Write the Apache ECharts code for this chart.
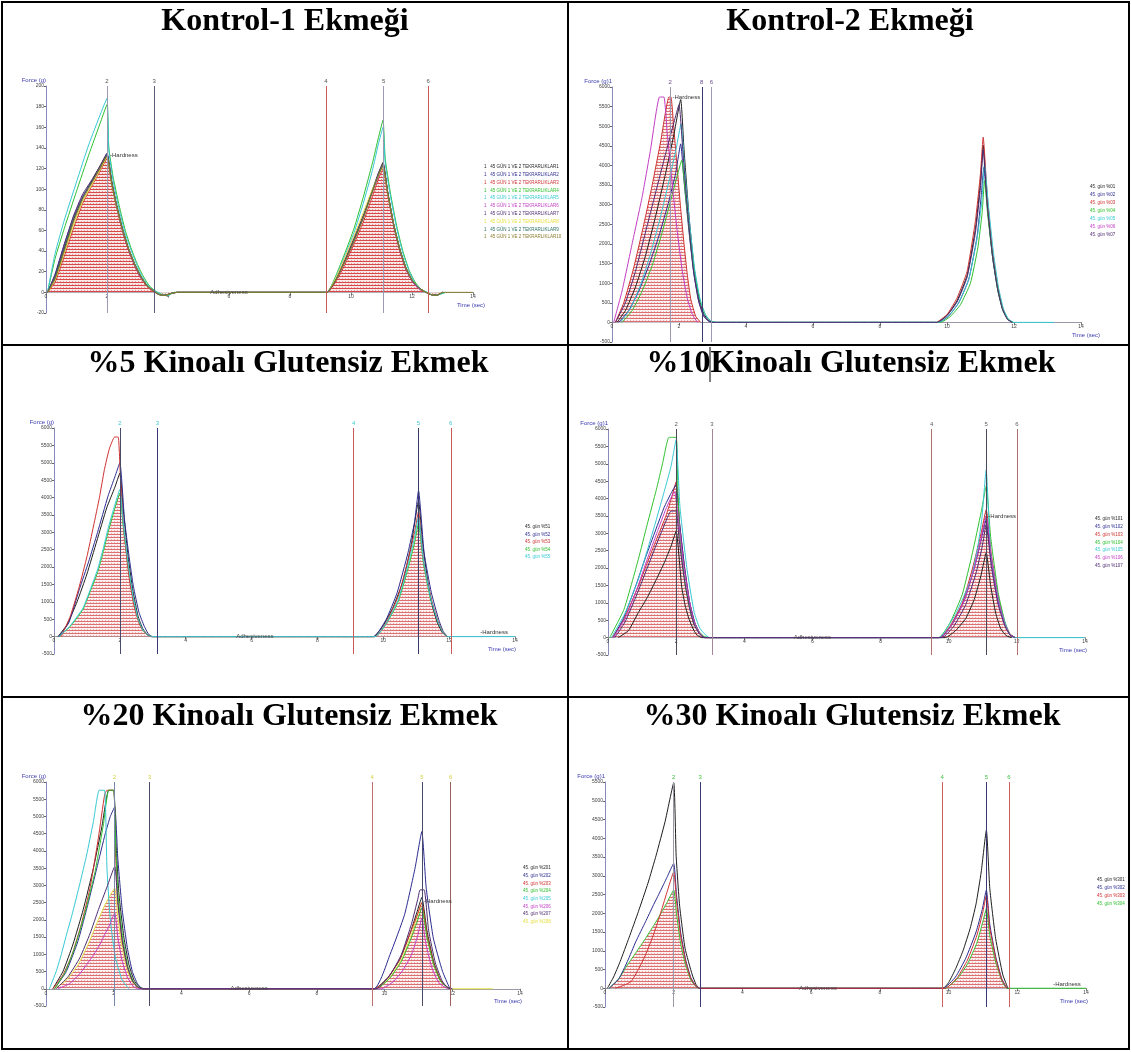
<!DOCTYPE html>
<html><head><meta charset="utf-8">
<script src="https://cdn.jsdelivr.net/npm/echarts@6.0.0/dist/echarts.min.js"></script>
<style>html,body{margin:0;padding:0;background:#fff}#c{width:1131px;height:1052px}</style>
</head><body><div id="c"></div>
<script>
// ---------------- text ----------------
const panelTitles = ['Kontrol-1 Ekmeği','Kontrol-2 Ekmeği','%5 Kinoalı Glutensiz Ekmek','%10Kinoalı Glutensiz Ekmek','%20 Kinoalı Glutensiz Ekmek','%30 Kinoalı Glutensiz Ekmek'];
const yMins = [-20,-500,-500,-500,-500,-500];
const yMaxs = [200,6000,6000,6000,6000,5500];
const ySteps = [20,500,500,500,500,500];
const xMin = 0, xMax = 14, xStep = 2;

// ---------------- Kontrol-1 ----------------
const k1Black = [[0.05,0],[0.3,14],[0.6,42],[0.9,70],[1.2,92],[1.5,108],[1.8,124],[2.0,134],[2.15,108],[2.3,86],[2.5,62],[2.7,43],[2.9,28],[3.1,16],[3.3,7],[3.5,2],[3.7,-2],[3.9,-3],[4.1,-1],[4.3,0],[9.2,0],[9.5,12],[9.8,30],[10.1,50],[10.4,72],[10.7,98],[10.9,115],[11.05,126],[11.2,98],[11.4,66],[11.6,42],[11.8,24],[12.0,12],[12.2,5],[12.4,1],[12.6,-2],[12.8,-3],[13.0,0]];
const k1Navy = [[0.05,0],[0.3,18],[0.6,47],[0.9,73],[1.2,93],[1.5,107],[1.8,121],[2.0,132],[2.15,107],[2.3,85],[2.5,61],[2.7,42],[2.9,27],[3.1,15],[3.3,7],[3.5,2],[3.7,-2],[3.9,-3],[4.1,-1],[4.3,0],[9.2,0],[9.5,13],[9.8,31],[10.1,52],[10.4,74],[10.7,99],[10.9,114],[11.05,124],[11.2,97],[11.4,65],[11.6,41],[11.8,23],[12.0,11],[12.2,4],[12.4,1],[12.6,-2],[12.8,-3],[13.0,0]];
const k1Red = [[0.05,0],[0.3,10],[0.6,35],[0.9,62],[1.2,86],[1.5,103],[1.8,119],[2.0,130],[2.15,105],[2.3,84],[2.5,60],[2.7,41],[2.9,26],[3.1,14],[3.3,6],[3.5,1],[3.7,-2],[3.9,-3],[4.1,-1],[4.3,0],[9.2,0],[9.5,10],[9.8,27],[10.1,47],[10.4,68],[10.7,93],[10.9,110],[11.05,120],[11.2,95],[11.4,64],[11.6,40],[11.8,22],[12.0,11],[12.2,4],[12.4,1],[12.6,-2],[12.8,-3],[13.0,0]];
const k1Green = [[0.05,0],[0.3,33],[0.6,62],[1.0,98],[1.4,133],[1.8,166],[2.0,182],[2.06,140],[2.2,112],[2.4,84],[2.6,60],[2.8,42],[3.0,27],[3.2,15],[3.4,6],[3.6,1],[3.8,-2],[4.0,-3],[4.2,0],[9.2,0],[9.5,16],[9.8,38],[10.1,62],[10.4,92],[10.7,125],[10.9,150],[11.05,167],[11.12,130],[11.3,95],[11.5,64],[11.7,40],[11.9,22],[12.1,10],[12.3,3],[12.5,0],[12.7,-3],[12.9,-2],[13.1,0]];
const k1Cyan = [[0.05,0],[0.3,38],[0.6,70],[1.0,107],[1.4,143],[1.8,174],[2.0,188],[2.06,138],[2.2,108],[2.4,80],[2.6,57],[2.8,40],[3.0,25],[3.2,13],[3.4,5],[3.6,1],[3.8,-2],[4.0,-3],[4.2,0],[9.2,0],[9.5,15],[9.8,36],[10.1,58],[10.4,86],[10.7,118],[10.9,144],[11.05,160],[11.12,126],[11.3,92],[11.5,62],[11.7,38],[11.9,21],[12.1,9],[12.3,3],[12.5,0],[12.7,-3],[12.9,-2],[13.1,0]];
const k1Magenta = [[0.05,0],[0.3,16],[0.6,45],[0.9,72],[1.2,93],[1.5,106],[1.8,121],[2.0,133],[2.15,107],[2.3,85],[2.5,61],[2.7,42],[2.9,27],[3.1,15],[3.3,7],[3.5,2],[3.7,-2],[3.9,-3],[4.1,-1],[4.3,0],[9.2,0],[9.5,13],[9.8,32],[10.1,53],[10.4,74],[10.7,98],[10.9,112],[11.05,122],[11.2,96],[11.4,65],[11.6,41],[11.8,23],[12.0,11],[12.2,4],[12.4,1],[12.6,-2],[12.8,-3],[13.0,0]];
const k1Purple = [[0.05,0],[0.3,17],[0.6,46],[0.9,74],[1.2,95],[1.5,109],[1.8,124],[2.0,135],[2.15,109],[2.3,87],[2.5,63],[2.7,43],[2.9,28],[3.1,16],[3.3,7],[3.5,2],[3.7,-2],[3.9,-3],[4.1,-1],[4.3,0],[9.2,0],[9.5,12],[9.8,31],[10.1,52],[10.4,74],[10.7,99],[10.9,116],[11.05,125],[11.2,98],[11.4,66],[11.6,42],[11.8,24],[12.0,12],[12.2,5],[12.4,1],[12.6,-2],[12.8,-3],[13.0,0]];
const k1Yellow = [[0.05,0],[0.3,12],[0.6,38],[0.9,65],[1.2,88],[1.5,104],[1.8,120],[2.0,131],[2.15,106],[2.3,85],[2.5,62],[2.7,43],[2.9,28],[3.1,16],[3.3,7],[3.5,2],[3.7,-2],[3.9,-3],[4.1,-1],[4.3,0],[9.2,0],[9.5,14],[9.8,34],[10.1,55],[10.4,77],[10.7,100],[10.9,113],[11.05,121],[11.2,96],[11.4,66],[11.6,42],[11.8,24],[12.0,12],[12.2,5],[12.4,1],[12.6,-2],[12.8,-3],[13.0,0]];
const k1Teal = [[0.05,0],[0.3,15],[0.6,43],[0.9,71],[1.2,92],[1.5,107],[1.8,122],[2.0,133],[2.15,107],[2.3,86],[2.5,62],[2.7,43],[2.9,28],[3.1,16],[3.3,7],[3.5,2],[3.7,-2],[3.9,-3],[4.1,-1],[4.3,0],[9.2,0],[9.5,12],[9.8,30],[10.1,51],[10.4,73],[10.7,98],[10.9,114],[11.05,123],[11.2,97],[11.4,66],[11.6,42],[11.8,24],[12.0,12],[12.2,5],[12.4,1],[12.6,-2],[12.8,-3],[13.0,0]];
const k1Olive = [[0.05,0],[0.3,13],[0.6,40],[0.9,68],[1.2,90],[1.5,106],[1.8,122],[2.0,132],[2.15,107],[2.3,86],[2.5,62],[2.7,43],[2.9,28],[3.1,16],[3.3,7],[3.5,2],[3.7,-2],[3.9,-3],[4.1,-1],[4.3,0],[9.2,0],[9.5,12],[9.8,30],[10.1,50],[10.4,72],[10.7,97],[10.9,114],[11.05,124],[11.2,97],[11.4,66],[11.6,42],[11.8,24],[12.0,12],[12.2,5],[12.4,1],[12.6,-2],[12.8,-3],[13.0,0],[14,0]];
const k1Names = ['1   45 GÜN 1 VE 2 TEKRARLIKLAR1','1   45 GÜN 1 VE 2 TEKRARLIKLAR2','1   45 GÜN 1 VE 2 TEKRARLIKLAR3','1   45 GÜN 1 VE 2 TEKRARLIKLAR4','1   45 GÜN 1 VE 2 TEKRARLIKLAR5','1   45 GÜN 1 VE 2 TEKRARLIKLAR6','1   45 GÜN 1 VE 2 TEKRARLIKLAR7','1   45 GÜN 1 VE 2 TEKRARLIKLAR8','1   45 GÜN 1 VE 2 TEKRARLIKLAR9','1   45 GÜN 1 VE 2 TEKRARLIKLAR10'];
const k1MarkTimes = [2.0,3.55,9.18,11.07,12.53];
const k1MarkLabels = ['2','3','4','5','6'];

// ---------------- Kontrol-2 ----------------
const k2Black = [[0.15,0],[0.4,300],[0.7,900],[1.0,1700],[1.3,2700],[1.6,3800],[1.85,4800],[2.05,5680],[2.15,4400],[2.3,2700],[2.45,1400],[2.6,600],[2.75,200],[2.9,40],[3.05,0],[9.7,0],[10.0,180],[10.3,550],[10.6,1200],[10.85,2400],[11.0,3600],[11.08,4520],[11.2,3100],[11.35,1800],[11.5,950],[11.65,380],[11.8,90],[11.95,0]];
const k2Navy = [[0.2,0],[0.5,300],[0.8,800],[1.1,1450],[1.4,2200],[1.7,3100],[1.9,3800],[2.05,4550],[2.15,3600],[2.3,2300],[2.45,1200],[2.6,500],[2.75,150],[2.9,30],[3.05,0],[9.75,0],[10.05,160],[10.35,500],[10.65,1100],[10.9,2200],[11.02,3200],[11.1,3950],[11.22,2800],[11.37,1600],[11.52,800],[11.67,300],[11.82,70],[11.97,0]];
const k2RedFirst = [[0.1,0],[0.35,500],[0.65,1400],[0.95,2500],[1.2,3500],[1.45,4600],[1.7,5745],[1.76,5745],[1.85,4900],[1.95,3900],[2.05,2900],[2.15,2000],[2.25,1200],[2.35,600],[2.5,150],[2.65,0]];
const k2RedSecond = [[9.7,0],[10.0,200],[10.3,620],[10.6,1300],[10.85,2600],[11.0,3800],[11.08,4720],[11.2,3250],[11.35,1900],[11.5,1000],[11.65,400],[11.8,100],[11.95,0]];
const k2Green = [[0.3,0],[0.6,300],[0.9,800],[1.2,1450],[1.5,2300],[1.75,3100],[1.95,3750],[2.08,4130],[2.2,3200],[2.35,2000],[2.5,1100],[2.65,500],[2.8,180],[2.95,40],[3.1,0],[9.8,0],[10.1,150],[10.4,450],[10.7,1000],[10.92,1900],[11.05,2800],[11.12,3620],[11.22,2700],[11.37,1600],[11.52,800],[11.67,300],[11.82,80],[11.97,0]];
const k2Cyan = [[0.25,0],[0.55,350],[0.85,950],[1.15,1750],[1.45,2700],[1.7,3600],[1.92,4450],[2.06,5060],[2.17,3900],[2.32,2500],[2.47,1350],[2.62,620],[2.77,220],[2.92,50],[3.08,0],[9.75,0],[10.05,170],[10.35,500],[10.65,1100],[10.9,2150],[11.04,3100],[11.12,4040],[11.24,2950],[11.39,1750],[11.54,880],[11.69,330],[11.84,80],[12.0,0],[13.2,0]];
const k2Magenta = [[0.05,0],[0.3,800],[0.6,2000],[0.9,3200],[1.15,4400],[1.42,5745],[1.55,5745],[1.65,4800],[1.8,3500],[1.95,2300],[2.1,1300],[2.25,600],[2.4,200],[2.55,0]];
const k2Purple = [[0.1,0],[0.4,500],[0.7,1300],[1.0,2300],[1.3,3300],[1.6,4300],[1.85,5100],[2.0,5550],[2.12,4300],[2.27,2700],[2.42,1400],[2.57,600],[2.72,180],[2.88,30],[3.0,0],[9.7,0],[10.0,170],[10.3,520],[10.6,1150],[10.85,2300],[11.0,3450],[11.08,4400],[11.2,3000],[11.35,1750],[11.5,900],[11.65,350],[11.8,80],[11.95,0]];
const k2Names = ['45. gün %01','45. gün %02','45. gün %03','45. gün %04','45. gün %05','45. gün %06','45. gün %07'];
const k2MarkTimes = [1.74,2.68,2.97];
const k2MarkLabels = ['2','8','6'];

// ---------------- %5 ----------------
const p5Black = [[0.12,0],[0.4,350],[0.7,1000],[1.0,1800],[1.3,2750],[1.6,3700],[1.85,4300],[2.0,4700],[2.1,3700],[2.25,2300],[2.4,1300],[2.55,600],[2.7,220],[2.85,50],[3.0,0],[9.7,0],[10.0,320],[10.3,850],[10.6,1600],[10.85,2650],[11.07,3900],[11.2,2650],[11.35,1600],[11.5,850],[11.65,380],[11.8,110],[11.95,0]];
const p5Navy = [[0.15,0],[0.45,400],[0.77,1360],[1.05,2150],[1.32,2990],[1.64,4040],[1.85,4600],[2.0,5000],[2.14,3370],[2.28,2300],[2.41,1450],[2.58,700],[2.74,300],[2.85,100],[2.96,0],[9.7,0],[10.09,500],[10.42,1260],[10.75,2410],[10.95,3300],[11.07,4200],[11.24,2410],[11.46,1260],[11.68,500],[11.82,150],[11.95,0]];
const p5Red = [[0.22,0],[0.5,600],[0.77,1450],[1.0,2300],[1.2,3180],[1.38,4000],[1.53,4800],[1.68,5400],[1.84,5740],[1.95,5740],[2.02,4500],[2.12,3100],[2.28,1700],[2.45,800],[2.62,300],[2.8,80],[2.95,0],[9.75,0],[10.1,420],[10.45,1150],[10.78,2300],[10.95,3000],[11.07,3600],[11.22,2200],[11.44,1150],[11.66,450],[11.82,120],[11.95,0]];
const p5Green = [[0.15,0],[0.5,300],[0.88,785],[1.1,1300],[1.32,1840],[1.5,2450],[1.64,2990],[1.82,3600],[2.0,4130],[2.1,3200],[2.25,2000],[2.4,1100],[2.55,500],[2.7,180],[2.85,40],[3.0,0],[9.75,0],[10.1,380],[10.45,1000],[10.75,1950],[10.95,2700],[11.07,3270],[11.22,2100],[11.44,1050],[11.66,400],[11.82,110],[11.95,0]];
const p5Cyan = [[0.15,0],[0.5,320],[0.88,820],[1.1,1350],[1.32,1920],[1.5,2550],[1.64,3100],[1.82,3700],[2.0,4230],[2.1,3300],[2.25,2100],[2.4,1150],[2.55,520],[2.7,190],[2.85,40],[3.0,0],[9.75,0],[10.1,400],[10.45,1050],[10.75,2050],[10.95,2850],[11.07,3450],[11.22,2200],[11.44,1100],[11.66,420],[11.82,110],[11.95,0],[14,0]];
const p5Names = ['45. gün %51','45. gün %52','45. gün %53','45. gün %54','45. gün %55'];
const p5MarkTimes = [2.0,3.14,9.1,11.07,12.05];
const p5MarkLabels = ['2','3','4','5','6'];

// ---------------- %10 ----------------
const p10Black = [[0.3,0],[0.6,200],[0.89,720],[1.15,1150],[1.42,1675],[1.65,2150],[1.85,2630],[2.0,3060],[2.16,1480],[2.27,900],[2.38,530],[2.5,250],[2.59,95],[2.75,0],[9.9,0],[10.2,200],[10.5,550],[10.75,1100],[10.95,1800],[11.1,2440],[11.23,1500],[11.38,700],[11.53,250],[11.7,50],[11.85,0]];
const p10Navy = [[0.15,0],[0.45,550],[0.8,1450],[1.1,2300],[1.4,3100],[1.65,3750],[1.85,4150],[2.0,4400],[2.1,3300],[2.25,2000],[2.4,1000],[2.55,420],[2.7,120],[2.85,0],[9.75,0],[10.1,380],[10.45,1050],[10.75,2000],[10.95,2800],[11.1,3400],[11.25,2200],[11.45,1050],[11.65,380],[11.8,90],[11.95,0]];
const p10Red = [[0.12,0],[0.45,500],[0.89,1480],[1.15,2150],[1.42,2820],[1.7,3500],[1.85,3970],[2.0,4480],[2.1,3300],[2.25,2000],[2.4,1000],[2.55,420],[2.7,120],[2.85,0],[9.72,0],[10.05,350],[10.4,1000],[10.7,2000],[10.95,3000],[11.1,3680],[11.25,2400],[11.45,1200],[11.65,420],[11.8,100],[11.95,0]];
const p10Green = [[0.05,0],[0.47,813],[0.89,2250],[1.15,3250],[1.42,4260],[1.6,5000],[1.79,5760],[2.0,5760],[2.05,4300],[2.11,2920],[2.27,1480],[2.48,526],[2.65,200],[2.8,48],[2.96,0],[9.7,0],[10.05,450],[10.4,1250],[10.7,2450],[10.95,3600],[11.1,4350],[11.23,2900],[11.45,1300],[11.65,450],[11.8,100],[11.95,0]];
const p10Cyan = [[0.1,0],[0.5,700],[0.89,1675],[1.15,2500],[1.42,3400],[1.65,4200],[1.85,4930],[2.0,5690],[2.11,3780],[2.32,1960],[2.53,720],[2.68,300],[2.8,140],[2.98,0],[9.7,0],[10.22,720],[10.65,1675],[10.85,2600],[10.97,3400],[11.1,4830],[11.23,2440],[11.5,910],[11.76,140],[11.92,0],[14,0]];
const p10Magenta = [[0.15,0],[0.5,550],[0.85,1400],[1.15,2250],[1.45,3050],[1.7,3700],[1.95,4200],[2.08,3300],[2.22,2100],[2.38,1100],[2.52,480],[2.68,150],[2.82,0],[9.75,0],[10.1,380],[10.45,1050],[10.75,2000],[10.95,2850],[11.1,3500],[11.25,2300],[11.45,1100],[11.65,380],[11.8,90],[11.95,0]];
const p10Purple = [[0.2,0],[0.5,450],[0.85,1250],[1.15,2000],[1.45,2750],[1.7,3350],[1.85,3640],[2.0,3640],[2.08,2900],[2.22,1800],[2.38,900],[2.52,380],[2.68,110],[2.82,0],[9.8,0],[10.15,330],[10.5,950],[10.8,1850],[10.98,2600],[11.1,3250],[11.25,2050],[11.45,950],[11.65,330],[11.8,70],[11.95,0]];
const p10Names = ['45. gün %101','45. gün %102','45. gün %103','45. gün %104','45. gün %105','45. gün %106','45. gün %107'];
const p10MarkTimes = [2.0,3.05,9.5,11.1,12.0];
const p10MarkLabels = ['2','3','4','5','6'];

// ---------------- %20 ----------------
const p20Black = [[0.2,0],[0.5,500],[0.8,1300],[1.1,2300],[1.4,3500],[1.65,4700],[1.85,5760],[2.0,5760],[2.07,4200],[2.15,2800],[2.3,1500],[2.45,700],[2.6,250],[2.75,60],[2.9,0],[9.7,0],[10.1,330],[10.45,850],[10.75,1600],[10.95,2200],[11.1,2650],[11.25,1700],[11.45,780],[11.65,250],[11.85,50],[11.95,0]];
const p20Navy = [[0.25,0],[0.6,500],[0.95,1400],[1.25,2500],[1.5,3500],[1.75,4500],[1.9,5000],[2.03,5280],[2.12,3800],[2.25,2300],[2.4,1200],[2.55,500],[2.7,150],[2.85,0],[9.68,0],[10.16,990],[10.59,2150],[10.9,3500],[11.1,4560],[11.23,2920],[11.44,1470],[11.71,510],[11.92,30],[12.0,0]];
const p20Red = [[0.2,0],[0.5,400],[0.77,990],[1.05,1900],[1.3,2920],[1.55,4400],[1.73,5620],[1.8,5760],[2.0,5760],[2.05,4000],[2.12,2600],[2.25,1400],[2.4,650],[2.55,250],[2.7,60],[2.85,0],[9.7,0],[10.1,320],[10.45,850],[10.75,1600],[10.95,2100],[11.1,2500],[11.25,1600],[11.45,750],[11.65,250],[11.85,50],[11.95,0]];
const p20Green = [[0.25,0],[0.55,450],[0.85,1200],[1.15,2200],[1.45,3400],[1.7,4800],[1.85,5760],[2.0,5760],[2.06,4100],[2.13,2700],[2.27,1450],[2.42,650],[2.57,230],[2.72,50],[2.87,0],[9.75,0],[10.15,300],[10.5,800],[10.8,1500],[10.98,2000],[11.1,2350],[11.25,1500],[11.45,700],[11.65,220],[11.85,40],[11.95,0]];
const p20Cyan = [[0.1,0],[0.3,500],[0.45,990],[0.6,1550],[0.77,2150],[1.0,3050],[1.2,3880],[1.4,4850],[1.57,5760],[1.73,5760],[1.8,3500],[1.9,2000],[2.05,900],[2.25,250],[2.45,0]];
const p20Magenta = [[0.35,0],[0.7,150],[0.98,415],[1.2,700],[1.41,990],[1.6,1300],[1.73,1570],[1.88,1850],[2.03,2200],[2.12,1500],[2.25,800],[2.4,350],[2.55,100],[2.7,0],[9.9,0],[10.25,200],[10.55,550],[10.8,1000],[10.98,1550],[11.1,2050],[11.22,1300],[11.4,600],[11.6,180],[11.8,30],[11.9,0]];
const p20Purple = [[0.3,0],[0.65,350],[1.0,900],[1.3,1600],[1.55,2300],[1.8,2950],[2.03,3550],[2.12,2500],[2.25,1400],[2.4,650],[2.55,230],[2.7,50],[2.85,0],[9.75,0],[10.15,380],[10.5,1000],[10.8,1900],[10.98,2600],[11.05,2870],[11.17,2870],[11.3,1700],[11.5,750],[11.7,230],[11.85,40],[11.95,0]];
const p20Yellow = [[0.25,0],[0.6,250],[0.95,700],[1.25,1300],[1.5,1900],[1.75,2450],[2.03,2920],[2.12,2100],[2.25,1200],[2.4,550],[2.55,200],[2.7,50],[2.85,0],[9.75,0],[10.15,320],[10.5,850],[10.8,1600],[10.98,2150],[11.1,2500],[11.25,1600],[11.45,750],[11.65,250],[11.85,50],[11.95,0],[13.2,0]];
const p20Names = ['45. gün %201','45. gün %202','45. gün %203','45. gün %204','45. gün %205','45. gün %206','45. gün %207','45. gün %208'];
const p20MarkTimes = [2.02,3.06,9.63,11.1,11.95];
const p20MarkLabels = ['2','3','4','5','6'];

// ---------------- %30 ----------------
const p30Black = [[0.07,0],[0.25,300],[0.44,710],[0.7,1350],[0.97,2040],[1.25,2800],[1.49,3550],[1.75,4450],[2.0,5480],[2.07,3550],[2.17,2220],[2.33,1065],[2.54,355],[2.65,100],[2.75,0],[9.84,0],[10.0,150],[10.21,530],[10.42,1000],[10.63,1600],[10.8,2250],[10.95,3100],[11.1,4215],[11.2,2660],[11.37,1330],[11.58,355],[11.73,0]];
const p30Navy = [[0.12,0],[0.4,250],[0.65,710],[0.9,1250],[1.18,1775],[1.4,2200],[1.6,2570],[1.8,2950],[2.0,3330],[2.08,2500],[2.2,1500],[2.35,750],[2.5,280],[2.65,50],[2.75,0],[9.84,0],[10.2,300],[10.5,800],[10.8,1500],[10.98,2100],[11.1,2620],[11.2,1700],[11.37,850],[11.55,250],[11.7,0]];
const p30Red = [[0.3,0],[0.55,80],[0.76,180],[0.97,500],[1.18,890],[1.4,1400],[1.6,1950],[1.8,2550],[2.0,3100],[2.08,2350],[2.2,1400],[2.35,700],[2.5,260],[2.65,50],[2.75,0],[9.9,0],[10.25,280],[10.55,750],[10.82,1400],[10.99,2000],[11.1,2480],[11.2,1600],[11.37,800],[11.55,230],[11.7,0]];
const p30Green = [[0.12,0],[0.4,250],[0.65,620],[0.9,950],[1.18,1330],[1.4,1650],[1.6,1950],[1.8,2280],[2.0,2620],[2.08,2000],[2.2,1200],[2.35,600],[2.5,220],[2.65,40],[2.75,0],[9.9,0],[10.25,250],[10.55,650],[10.82,1200],[10.99,1750],[11.1,2130],[11.2,1400],[11.37,700],[11.55,200],[11.7,0],[14,0]];
const p30Names = ['45. gün %301','45. gün %302','45. gün %303','45. gün %304'];
const p30MarkTimes = [2.0,2.77,9.81,11.1,11.76];
const p30MarkLabels = ['2','3','4','5','6'];

// annotations [t, force]
const hardnessAt = [[2.05,133],[1.76,5745],[12.9,120],[11.12,3500],[11.12,2550],[13.0,100]];
const adhesivenessAt = [[6.0,0],null,[6.1,0],[6.0,0],[6.0,0],[6.2,0]];

// ---------------- styling / layout ----------------
const C = {black:'#1e1e1e', navy:'#2b2b90', red:'#cf3030', green:'#2fc02f', cyan:'#35c9d2', magenta:'#c23cc2', purple:'#4e2a70', yellow:'#e4de3c', teal:'#2a6e60', olive:'#8a7a2a'};
const grids = [
  {left:46, top:86, width:427, height:227},
  {left:612, top:87, width:469, height:255},
  {left:54, top:428, width:461, height:226},
  {left:608, top:429, width:477, height:226},
  {left:46, top:782, width:474, height:224},
  {left:605, top:782, width:481, height:225}
];
const titlePos = [[285,22],[850,22],[288,364],[851,364],[289,717],[852,717]];
const legendPos = [[484,167,7.8],[1090,187,8],[525,527,7.5],[1095,519,7.8],[523,868,7.7],[1097,880,8]];
const timeGap = [12,19,1,2,2,2];
const markColors = [
  ['#9a9ab2','#5a5a7a','#c85a5a','#9a9ab2','#c85a5a'],
  ['#9a9ab2','#3a3a6a','#9a9ab2'],
  ['#4a4a6a','#3a3a7a','#c85a5a','#3a3a6a','#c85a5a'],
  ['#4a4a5a','#a08898','#b07070','#4a4a5a','#b07070'],
  ['#7888a8','#4a4a6a','#c07070','#4a4a6a','#a06060'],
  ['#9a9aaa','#3a3a7a','#d06060','#3a3a7a','#d06060']
];
const markLabelColor = ['#555555','#6a4a8a','#40c8d0','#606060','#d8d440','#40c040'];

function hatch(line, bg, vline) {
  const c = document.createElement('canvas'); c.width = 3; c.height = 3;
  const g = c.getContext('2d');
  g.fillStyle = bg; g.fillRect(0,0,3,3);
  g.fillStyle = vline; g.fillRect(0,2,1,1);
  g.fillStyle = line; g.fillRect(0,0,3,1);
  return {image: c, repeat: 'repeat'};
}
const hatchStrong = hatch('#d84848', '#f9e8e8', '#e6a0a0');
const hatchLight = hatch('#dc7070', '#fcf0f0', '#e8b0b0');

const panels = [
  {curves:[[k1Black,C.black],[k1Navy,C.navy],[k1Red,C.red,hatchStrong],[k1Green,C.green],[k1Cyan,C.cyan],[k1Magenta,C.magenta],[k1Purple,C.purple],[k1Yellow,C.yellow],[k1Teal,C.teal],[k1Olive,C.olive]],
   names:k1Names, legendColors:[C.black,C.navy,C.red,C.green,C.cyan,C.magenta,C.purple,C.yellow,C.teal,C.olive], marks:k1MarkTimes, markLabels:k1MarkLabels},
  {curves:[[k2Black,C.black],[k2Navy,C.navy],[k2RedFirst,C.red,hatchLight],[k2RedSecond,C.red],[k2Green,C.green],[k2Cyan,C.cyan],[k2Magenta,C.magenta],[k2Purple,C.purple]],
   names:k2Names, legendColors:[C.black,C.navy,C.red,C.green,C.cyan,C.magenta,C.purple], marks:k2MarkTimes, markLabels:k2MarkLabels},
  {curves:[[p5Black,C.black],[p5Navy,C.navy],[p5Red,C.red],[p5Green,C.green,hatchLight],[p5Cyan,C.cyan]],
   names:p5Names, legendColors:[C.black,C.navy,C.red,C.green,C.cyan], marks:p5MarkTimes, markLabels:p5MarkLabels},
  {curves:[[p10Black,C.black],[p10Navy,C.navy],[p10Red,C.red,hatchLight],[p10Green,C.green],[p10Cyan,C.cyan],[p10Magenta,C.magenta],[p10Purple,C.purple]],
   names:p10Names, legendColors:[C.black,C.navy,C.red,C.green,C.cyan,C.magenta,C.purple], marks:p10MarkTimes, markLabels:p10MarkLabels},
  {curves:[[p20Black,C.black],[p20Navy,C.navy],[p20Red,C.red],[p20Green,C.green],[p20Cyan,C.cyan],[p20Magenta,C.magenta],[p20Purple,C.purple],[p20Yellow,C.yellow,hatchLight]],
   names:p20Names, legendColors:[C.black,C.navy,C.red,C.green,C.cyan,C.magenta,C.purple,C.yellow], marks:p20MarkTimes, markLabels:p20MarkLabels},
  {curves:[[p30Black,C.black],[p30Navy,C.navy],[p30Red,C.red],[p30Green,C.green,hatchLight]],
   names:p30Names, legendColors:[C.black,C.navy,C.red,C.green], marks:p30MarkTimes, markLabels:p30MarkLabels}
];

const FF = 'Liberation Sans';
const series = [];
panels.forEach((p, i) => {
  p.curves.forEach((cv, j) => {
    const s = {
      type:'line', xAxisIndex:i, yAxisIndex:i, data:cv[0], showSymbol:false, symbol:'none',
      smooth:0.15, lineStyle:{width:1, color:cv[1]}, itemStyle:{color:cv[1]}, silent:true,
      z: cv[2] ? 2 : 3, animation:false
    };
    if (cv[2]) s.areaStyle = {color: cv[2], opacity: 1};
    if (j === 0) {
      s.markLine = {
        silent:true, symbol:['none','none'], animation:false,
        data: p.marks.map((t, k) => ({xAxis:t, lineStyle:{color:markColors[i][k], width:1, type:'solid'},
          label:{show:true, formatter:p.markLabels[k], color:markLabelColor[i], fontSize:6, fontFamily:FF, distance:2, position:'end'}}))
      };
      const mp = [];
      mp.push({name:'Hardness', coord:hardnessAt[i], label:{show:true, position:'right', distance:1, formatter:'-Hardness', fontSize:6, color:'#333', fontFamily:FF}});
      if (adhesivenessAt[i]) mp.push({name:'Adhesiveness', coord:adhesivenessAt[i], label:{show:true, position:'inside', formatter:'Adhesiveness', fontSize:6, color:'#444', fontFamily:FF}});
      s.markPoint = {silent:true, symbol:'circle', symbolSize:1, itemStyle:{color:'rgba(0,0,0,0)'}, animation:false, data:mp};
    }
    series.push(s);
  });
});

const plain = v => String(v);
const xAxis = grids.map((g, i) => ({
  gridIndex:i, type:'value', min:xMin, max:xMax, interval:xStep, position:'bottom',
  // the time axis sits on the zero-force level of the y scale
  offset: -g.height * (0 - yMins[i]) / (yMaxs[i] - yMins[i]),
  axisLine:{onZero:false, lineStyle:{color:'#9a9aa6', width:1}},
  axisTick:{show:true, length:3, lineStyle:{color:'#777'}},
  axisLabel:{fontSize:5, color:'#444', margin:2, fontFamily:FF, formatter:plain},
  splitLine:{show:false},
  name:'Time (sec)', nameLocation:'end', nameGap:timeGap[i],
  nameTextStyle:{fontSize:6, color:'#3b3bb0', fontFamily:FF, align:'right', verticalAlign:'top', padding:[10,0,0,0]}
}));
const yAxis = grids.map((g, i) => ({
  gridIndex:i, type:'value', min:yMins[i], max:yMaxs[i], interval:ySteps[i],
  axisLine:{show:true, onZero:false, lineStyle:{color:'#8a8ab8', width:1}},
  axisTick:{show:true, length:2, lineStyle:{color:'#666'}},
  axisLabel:{fontSize:5, color:'#444', margin:2, fontFamily:FF, formatter:plain},
  splitLine:{show:false},
  name: i === 1 || i === 3 || i === 5 ? 'Force (g)1' : 'Force (g)', nameLocation:'end', nameGap:3,
  nameTextStyle:{fontSize:6, color:'#3b3bb0', fontFamily:FF, align:'right', verticalAlign:'bottom'}
}));

// ---------------- graphics: table, titles, legends ----------------
const graphic = [];
graphic.push({type:'rect', shape:{x:2, y:2, width:1127, height:1047}, style:{fill:'none', stroke:'#000', lineWidth:2}, z:100});
graphic.push({type:'line', shape:{x1:568, y1:2, x2:568, y2:1049}, style:{stroke:'#000', lineWidth:2}, z:100});
graphic.push({type:'line', shape:{x1:2, y1:345, x2:1129, y2:345}, style:{stroke:'#000', lineWidth:2}, z:100});
graphic.push({type:'line', shape:{x1:2, y1:697, x2:1129, y2:697}, style:{stroke:'#000', lineWidth:2}, z:100});
panelTitles.forEach((t, i) => {
  graphic.push({type:'text', x:titlePos[i][0], y:titlePos[i][1], z:100,
    style:{text:t, fill:'#000', font:'bold 32px "Liberation Serif"', textAlign:'center', textVerticalAlign:'middle'}});
});
graphic.push({type:'line', shape:{x1:710, y1:347, x2:710, y2:382}, style:{stroke:'#000', lineWidth:1}, z:101});
panels.forEach((p, i) => {
  const [lx, ly, dy] = legendPos[i];
  p.names.forEach((n, k) => {
    graphic.push({type:'text', x:lx, y:ly + k*dy, z:100,
      style:{text:n, fill:p.legendColors[k], font:'4.5px "Liberation Sans"', textAlign:'left', textVerticalAlign:'middle'}});
  });
});

const chart = echarts.init(document.getElementById('c'), null, {renderer:'canvas'});
chart.setOption({
  animation:false, backgroundColor:'#fff',
  grid: grids.map(g => Object.assign({outerBoundsMode:'none', containLabel:false}, g)),
  xAxis, yAxis, series, graphic
});
</script></body></html>
